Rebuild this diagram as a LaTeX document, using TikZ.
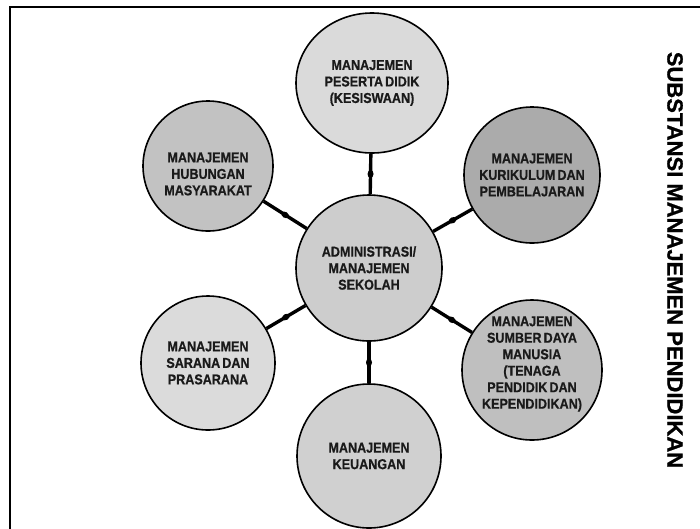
\documentclass[tikz,border=0pt]{standalone}
\usepackage{fontspec}
\newfontfamily\bubfont{Liberation Sans Bold}[FakeStretch=0.88, FakeBold=0.7, WordSpace=0.6]
\newfontfamily\titlefont{Liberation Sans Bold}[FakeBold=0.9]
\usetikzlibrary{shapes.geometric}
\definecolor{cTop}{HTML}{DADADA}
\definecolor{cKur}{HTML}{ABABAB}
\definecolor{cHub}{HTML}{C2C2C2}
\definecolor{cCen}{HTML}{CDCDCD}
\definecolor{cSar}{HTML}{DBDBDB}
\definecolor{cSum}{HTML}{BFBFBF}
\definecolor{cKeu}{HTML}{D0D0D0}
\definecolor{ink}{HTML}{1A1A1A}
\begin{document}
\begin{tikzpicture}[x=1pt,y=-1pt,
  bub/.style={circle, draw=black, line width=1.6pt, text=ink, inner sep=0pt, align=center,
    font=\bubfont\fontsize{14.3}{16.5}\selectfont},
  bubtext/.style={text=ink, inner sep=0pt, align=center, font=\bubfont\fontsize{14.3}{16.5}\selectfont},
  link/.style={line width=3.4pt, draw=black},
  bead/.style={ellipse, fill=black, sloped, minimum width=8pt, minimum height=6pt, inner sep=0pt}]
\useasboundingbox (0,0) rectangle (700,528);
\draw[line width=2.4pt] (10,530) -- (10,7) -- (702,7);

\node[bub, minimum size=146pt, fill=cCen] (C) at (369,268) {ADMINISTRASI/\\MANAJEMEN\\SEKOLAH};
\node[bub, ellipse, minimum width=152pt, minimum height=140pt, fill=cTop] (T) at (372,83) {MANAJEMEN\\PESERTA DIDIK\\(KESISWAAN)};
\node[bub, minimum size=136pt, fill=cKur] (K) at (532,175) {MANAJEMEN\\KURIKULUM DAN\\PEMBELAJARAN};
\node[bub, minimum size=130pt, fill=cHub] (H) at (208,166) {};
\node[bubtext] (Htext) at (208,174) {MANAJEMEN\\HUBUNGAN\\MASYARAKAT};
\node[bub, minimum size=134pt, fill=cSar] (S) at (208,363) {MANAJEMEN\\SARANA DAN\\PRASARANA};
\node[bub, minimum size=140pt, fill=cSum] (D) at (532,370) {};
\node[bubtext] (Dtext) at (532,364) {MANAJEMEN\\SUMBER DAYA\\MANUSIA\\(TENAGA\\PENDIDIK DAN\\KEPENDIDIKAN)};
\node[bub, minimum size=144pt, fill=cKeu] (U) at (369,456) {MANAJEMEN\\KEUANGAN};

\foreach \n in {T,K,D,U,S,H}
  \draw[link] (C) -- (\n) node[midway, bead] {};

\node[rotate=-90, text=black, font=\titlefont\fontsize{22}{22}\selectfont] (title) at (675,260) {SUBSTANSI MANAJEMEN PENDIDIKAN};
\end{tikzpicture}
\end{document}
